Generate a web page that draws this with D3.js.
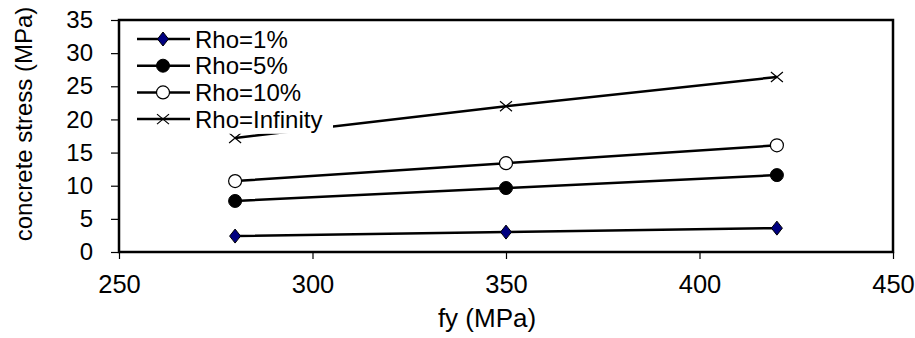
<!DOCTYPE html>
<html>
<head>
<meta charset="utf-8">
<script src="https://cdn.jsdelivr.net/npm/d3@7"></script>
<style>
  body { margin: 0; background: #fff; }
  text { font-family: Arial, "Liberation Sans", sans-serif; }
</style>
</head>
<body>
<svg id="chart" width="915" height="338"></svg>
<script>
// fy values (MPa)
var fy = [280, 350, 420]
// concrete stress (MPa) per reinforcement ratio
var rho1 = [2.4, 3.0, 3.6]
var rho5 = [7.7, 9.65, 11.6]
var rho10 = [10.7, 13.4, 16.1]
var rhoInf = [17.2, 22.0, 26.4]
var seriesNames = ['Rho=1%', 'Rho=5%', 'Rho=10%', 'Rho=Infinity']
var markerKinds = ['diamond', 'dot', 'ring', 'cross']
var xTicks = [250, 300, 350, 400, 450]
var yTicks = [0, 5, 10, 15, 20, 25, 30, 35]

var series = [rho1, rho5, rho10, rhoInf].map((vals, i) => ({
  name: seriesNames[i],
  kind: markerKinds[i],
  points: vals.map((v, j) => ({ x: fy[j], y: v }))
}))

const margin = { left: 119, top: 20, right: 22, bottom: 86 }
const W = 915
const H = 338
const plotW = W - margin.left - margin.right
const plotH = H - margin.top - margin.bottom

var svg = d3.select('#chart')

var x = d3.scaleLinear().domain([250, 450]).range([margin.left, margin.left + plotW])
var y = d3.scaleLinear().domain([0, 35]).range([margin.top + plotH, margin.top])

var drawMarker = function (g, kind, cx, cy) {
  if (kind === 'diamond') {
    g.append('path')
      .attr('d', 'M' + cx + ',' + (cy - 7) + 'L' + (cx + 5.5) + ',' + cy + 'L' + cx + ',' + (cy + 7) + 'L' + (cx - 5.5) + ',' + cy + 'Z')
      .attr('fill', '#000080').attr('stroke', '#000').attr('stroke-width', 1)
  } else if (kind === 'dot') {
    g.append('circle').attr('cx', cx).attr('cy', cy).attr('r', 6.5)
      .attr('fill', '#000').attr('stroke', '#000')
  } else if (kind === 'ring') {
    g.append('circle').attr('cx', cx).attr('cy', cy).attr('r', 6.5)
      .attr('fill', '#fff').attr('stroke', '#000').attr('stroke-width', 1.2)
  } else {
    g.append('path')
      .attr('d', 'M' + (cx - 6) + ',' + (cy - 5) + 'L' + (cx + 6) + ',' + (cy + 5) + 'M' + (cx - 6) + ',' + (cy + 5) + 'L' + (cx + 6) + ',' + (cy - 5))
      .attr('stroke', '#000').attr('stroke-width', 1.2).attr('fill', 'none')
  }
}

// axes
var xAxis = d3.axisBottom(x).tickValues(xTicks).tickSize(7).tickSizeOuter(0)
var yAxis = d3.axisLeft(y).tickValues(yTicks).tickSize(8).tickSizeOuter(0)

var gx = svg.append('g')
  .attr('transform', 'translate(0,' + (margin.top + plotH) + ')')
  .call(xAxis)
gx.select('.domain').remove()
gx.selectAll('line').attr('stroke', '#000').attr('stroke-width', 1.2)
gx.selectAll('text').attr('font-size', 25.5).attr('fill', '#000')
  .attr('y', 41).attr('dy', 0)

var gy = svg.append('g')
  .attr('transform', 'translate(' + margin.left + ',0)')
  .call(yAxis)
gy.select('.domain').remove()
gy.selectAll('line').attr('stroke', '#000').attr('stroke-width', 1.2)
gy.selectAll('text').attr('font-size', 24).attr('fill', '#000').attr('x', -26)

// series lines and markers
var line = d3.line().x(d => x(d.x)).y(d => y(d.y))
var plot = svg.append('g')
series.forEach(s => {
  plot.append('path').datum(s.points)
    .attr('d', line)
    .attr('fill', 'none').attr('stroke', '#000').attr('stroke-width', 2.5)
  s.points.forEach(p => drawMarker(plot, s.kind, x(p.x), y(p.y)))
})

// legend, with a white background that hides the line behind it
var legend = svg.append('g')
legend.append('rect')
  .attr('x', margin.left + 3).attr('y', margin.top + 2)
  .attr('width', 211).attr('height', 111.8)
  .attr('fill', '#fff')
series.forEach((s, i) => {
  var ly = 39 + i * 26.7
  legend.append('line')
    .attr('x1', 137).attr('x2', 190).attr('y1', ly).attr('y2', ly)
    .attr('stroke', '#000').attr('stroke-width', 2.5)
  drawMarker(legend, s.kind, 163, ly)
  legend.append('text')
    .attr('x', 195).attr('y', ly).attr('dy', '0.36em')
    .attr('font-size', 24).text(s.name)
})

// frame
svg.append('rect')
  .attr('x', margin.left).attr('y', margin.top)
  .attr('width', plotW).attr('height', plotH)
  .attr('fill', 'none').attr('stroke', '#000').attr('stroke-width', 2.5)

// titles
svg.append('text')
  .attr('x', 487).attr('y', 327)
  .attr('text-anchor', 'middle').attr('font-size', 26)
  .text('fy (MPa)')

svg.append('text')
  .attr('transform', 'translate(32,124) rotate(-90)')
  .attr('text-anchor', 'middle').attr('font-size', 24)
  .text('concrete stress (MPa)')
</script>
</body>
</html>
